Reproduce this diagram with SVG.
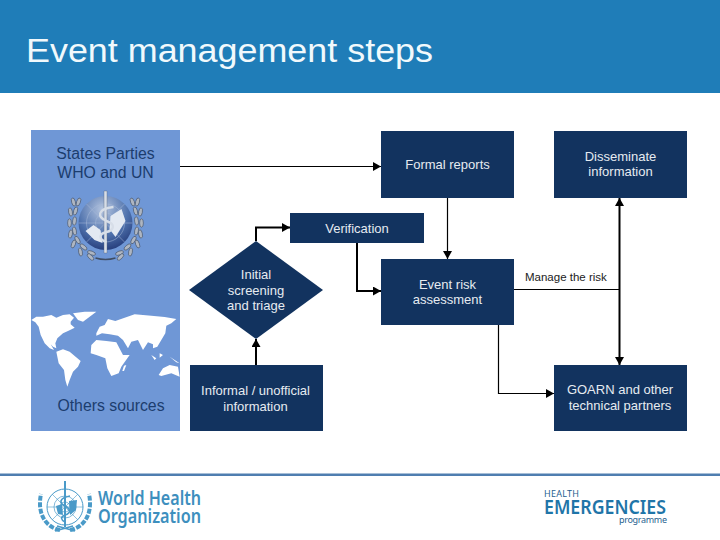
<svg xmlns="http://www.w3.org/2000/svg" width="720" height="540" viewBox="0 0 720 540">
<style>
text{font-family:"Liberation Sans",Arial,sans-serif}
.box{fill:#12335f}
.lbl{fill:#e6ebf1;font-size:13px;text-anchor:middle}
.side{fill:#1c3d6e;font-size:15.800px;text-anchor:middle}
.c{fill:none;stroke:#000;stroke-width:1.200}
.t{fill:none;stroke:#000;stroke-width:2}
.logo{font-family:"Noto Sans","Open Sans",sans-serif}
</style>
<defs>
<marker id="a" markerUnits="userSpaceOnUse" markerWidth="9" markerHeight="10" refX="8" refY="4.500" orient="auto-start-reverse"><path d="M0 0L8 4.500L0 9Z" fill="#000"/></marker>
<radialGradient id="globe" cx=".45" cy=".25" r=".85"><stop offset="0" stop-color="#b6c6e0"/><stop offset=".55" stop-color="#4f72ad"/><stop offset="1" stop-color="#1b2f6e"/></radialGradient>
<ellipse id="leaf" rx="1.900" ry="4.200" fill="#aeb6c2" stroke="#3f4d63" stroke-width=".6"/>
<g id="laurel">
<use href="#leaf" transform="translate(-27 -21) rotate(20)"/>
<use href="#leaf" transform="translate(-32 -21) rotate(-15)"/>
<use href="#leaf" transform="translate(-30 -12) rotate(15)"/>
<use href="#leaf" transform="translate(-35 -11) rotate(-10)"/>
<use href="#leaf" transform="translate(-31 -2) rotate(5)"/>
<use href="#leaf" transform="translate(-36 0)"/>
<use href="#leaf" transform="translate(-31 8) rotate(-10)"/>
<use href="#leaf" transform="translate(-35 11) rotate(10)"/>
<use href="#leaf" transform="translate(-28 17) rotate(-30)"/>
<use href="#leaf" transform="translate(-32 21) rotate(20)"/>
<use href="#leaf" transform="translate(-22 24) rotate(-50)"/>
<use href="#leaf" transform="translate(-25 29) rotate(-10)"/>
<use href="#leaf" transform="translate(-14 30) rotate(-70)"/>
<use href="#leaf" transform="translate(-15 34) rotate(-45)"/>
</g>
</defs>
<rect width="720" height="540" fill="#fff"/>
<rect width="720" height="93" fill="#1f7db8"/>
<text x="26" y="62" font-size="33" fill="#f1f9fc" textLength="407" lengthAdjust="spacingAndGlyphs">Event management steps</text>

<g id="sources">
<rect x="31" y="130" width="149" height="301" fill="#6f97d6"/>
<text class="side" x="105.500" y="159">States Parties</text>
<text class="side" x="105.500" y="178">WHO and UN</text>
<g id="who-emblem" transform="translate(105.500 223)">
<use href="#laurel"/><use href="#laurel" transform="scale(-1 1)"/>
<path d="M-10 35Q0 38 10 35" fill="none" stroke="#3f4d63" stroke-width="1.500"/>
<circle r="27" fill="url(#globe)"/>
<g fill="none" stroke="#a8bbd8" stroke-width=".5"><circle r="19"/><circle r="10"/><path d="M-27 0H27M-19 -19L19 19M19 -19L-19 19"/></g>
<path d="M-20 8L-12 2L-5 7L-3 20L-11 17ZM5 -7L16 -14L20 -2L10 14L4 6Z" fill="#e3e9f2"/>
<path d="M-1.500 -32H1.500V30H-1.500Z" fill="#d7dee8" stroke="#55657c" stroke-width=".4"/>
<path d="M8 -16C-9 -14-8 -6 1 -2C10 1 9 7 1 9C-7 11-7 16 1 19" fill="none" stroke="#d7dee8" stroke-width="2.400"/>
</g>
<g id="world-map" fill="#fff" transform="translate(28 305) scale(.3333)">
<path d="M10 45L25 35L45 35L70 30L85 38L105 30L125 28L138 38L128 50L128 58L140 68L120 78L105 85L88 100L82 115L85 130L75 125L68 118L78 135L65 130L50 115L38 90L32 65L22 52Z"/>
<path d="M135 25L170 20L205 20L185 35L165 50L150 45Z"/>
<path d="M85 140L105 133L125 140L158 168L150 185L135 200L125 225L118 245L112 225L108 195L92 175Z"/>
<path d="M190 120L205 105L235 108L265 112L285 150L305 150L280 185L272 205L250 213L238 190L232 160L205 150L188 145Z"/>
<path d="M205 85L215 65L230 60L240 42L262 48L290 38L320 28L370 32L410 36L445 42L430 55L415 62L412 85L400 105L388 125L375 130L375 118L360 112L345 135L330 105L310 110L300 130L285 105L270 92L245 88L222 85L205 92Z"/>
<path d="M392 210L405 190L425 180L450 185L455 215L430 205L400 213Z"/>
<path d="M288 182L295 180L288 198L283 198Z"/>
<path d="M370 150L385 160L380 165ZM395 145L405 150L395 158ZM425 155L455 175L445 172Z"/>
</g>
<text class="side" x="111" y="410.500">Others sources</text>
</g>

<g id="connectors">
<path class="c" d="M180 166.500H381" marker-end="url(#a)"/>
<path class="c" d="M447.500 198V259" marker-end="url(#a)"/>
<path class="t" d="M256 241V227.500H290" marker-end="url(#a)"/>
<path class="t" d="M357 243V291H381" marker-end="url(#a)"/>
<path class="t" d="M256 365V339" marker-end="url(#a)"/>
<path class="c" d="M514 289.500H619.500"/>
<path class="t" d="M619.500 198V365" marker-start="url(#a)" marker-end="url(#a)"/>
<path class="c" d="M498.500 325V393.500H554" marker-end="url(#a)"/>
</g>

<g id="formal"><rect class="box" x="381" y="131" width="133" height="67"/><text class="lbl" x="447.500" y="169">Formal reports</text></g>
<g id="disseminate"><rect class="box" x="554" y="131" width="133" height="67"/><text class="lbl" x="620.500" y="161">Disseminate</text><text class="lbl" x="620.500" y="176">information</text></g>
<g id="verification"><rect class="box" x="290" y="213" width="134" height="30"/><text class="lbl" x="357" y="233">Verification</text></g>
<g id="event-risk"><rect class="box" x="381" y="259" width="133" height="66"/><text class="lbl" x="447.500" y="289">Event risk</text><text class="lbl" x="447.500" y="304">assessment</text></g>
<g id="screening"><path class="box" d="M256 241L323 290L256 339L189 290Z"/><text class="lbl" x="256" y="279">Initial</text><text class="lbl" x="256" y="295">screening</text><text class="lbl" x="256" y="310">and triage</text></g>
<g id="informal"><rect class="box" x="190" y="365" width="133" height="66"/><text class="lbl" x="255.500" y="395">Informal / unofficial</text><text class="lbl" x="255.500" y="411">information</text></g>
<g id="goarn"><rect class="box" x="554" y="365" width="133" height="66"/><text class="lbl" x="620" y="394">GOARN and other</text><text class="lbl" x="620" y="410">technical partners</text></g>
<text x="525" y="281" font-size="11.500" fill="#222">Manage the risk</text>

<g id="footer">
<rect y="473.500" width="720" height="2.500" fill="#4f7eb0"/>
<g id="who-logo" transform="translate(65 507)" fill="none" stroke="#4a9ac8">
<circle r="18" stroke-width="1"/><circle r="11" stroke-width=".7"/><circle r="5" stroke-width=".7"/>
<path d="M-18 0H18M-13 -13L13 13M13 -13L-13 13" stroke-width=".6"/>
<path d="M0 -26V20" stroke-width="2"/>
<path d="M5 -11C-6 -9-6 -4 0 -1C6 2 6 6 0 8C-5 10-4 13 0 15" stroke-width="1.600"/>
<path d="M-9 -1L-3 -3L-2 8L-7 7ZM4 -6L12 -7L11 3L5 8Z" fill="#4a9ac8" stroke="none"/>
<path d="M-5 23C-20 20-28 6-24 -13M5 23C20 20 28 6 24 -13" stroke-width="4" stroke-dasharray="5 1.500"/>
<path d="M-10 24L8 19M10 24L-8 19" stroke-width="1.500"/>
</g>
<text class="logo" x="98" y="505" font-size="19.500" font-weight="600" fill="#3d8fbe" textLength="103" lengthAdjust="spacingAndGlyphs">World Health</text>
<text class="logo" x="98" y="523" font-size="19.500" font-weight="600" fill="#3d8fbe" textLength="103" lengthAdjust="spacingAndGlyphs">Organization</text>
<text class="logo" x="544" y="497" font-size="9" fill="#1f5f8f" textLength="35" lengthAdjust="spacing">HEALTH</text>
<text class="logo" x="544" y="514" font-size="19" font-weight="600" fill="#1f75a8" textLength="122" lengthAdjust="spacingAndGlyphs">EMERGENCIES</text>
<text class="logo" x="619" y="523" font-size="9" fill="#1f5f8f" textLength="48" lengthAdjust="spacing">programme</text>
</g>
</svg>
